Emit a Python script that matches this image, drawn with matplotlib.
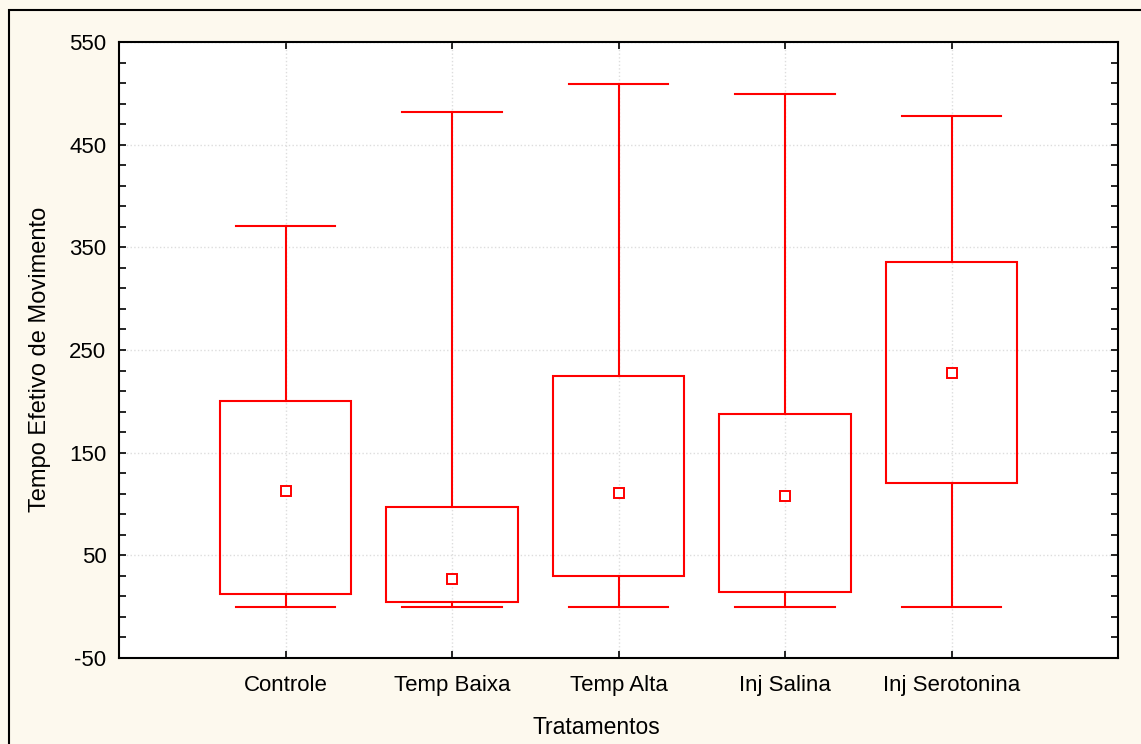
import matplotlib
matplotlib.use("Agg")
import matplotlib.pyplot as plt
import numpy as np
from matplotlib.patches import Rectangle
from matplotlib.ticker import FixedLocator

plt.rcParams["font.family"] = ["Liberation Sans", "DejaVu Sans"]
plt.rcParams["axes.unicode_minus"] = False

# dados
tratamentos = ["Controle", "Temp Baixa", "Temp Alta", "Inj Salina", "Inj Serotonina"]
whisker_min = [0, 0, 0, 0, 0]
box_low = [12, 5, 30, 14, 120]
media = [113, 27, 111, 108, 228]
box_high = [200, 97, 225, 188, 336]
whisker_max = [371, 482, 509, 499, 478]

RED = "#FF0000"
BG = "#FDF9EE"

fig = plt.figure(figsize=(11.41, 7.44), dpi=100)
fig.patch.set_facecolor(BG)
# moldura da figura
fig.patches.append(Rectangle((9 / 1141, -0.1), 1.2, 1 - 10 / 744 + 0.1,
                             transform=fig.transFigure, fill=False,
                             edgecolor="black", linewidth=1.5))

ax = fig.add_axes([119 / 1141, 1 - 658 / 744, (1118 - 119) / 1141, (658 - 42) / 744])
ax.set_facecolor("white")

box_w = 0.79
cap_w = 0.6
for i, nome in enumerate(tratamentos):
    x = i + 1
    ax.add_patch(Rectangle((x - box_w / 2, box_low[i]), box_w, box_high[i] - box_low[i],
                           fill=False, edgecolor=RED, linewidth=1.5, zorder=3))
    ax.plot([x, x], [box_high[i], whisker_max[i]], color=RED, lw=1.5, zorder=3)
    ax.plot([x, x], [whisker_min[i], box_low[i]], color=RED, lw=1.5, zorder=3)
    ax.plot([x - cap_w / 2, x + cap_w / 2], [whisker_max[i]] * 2, color=RED, lw=1.5, zorder=3)
    ax.plot([x - cap_w / 2, x + cap_w / 2], [whisker_min[i]] * 2, color=RED, lw=1.5, zorder=3)
    ax.plot(x, media[i], marker="s", markersize=7, markerfacecolor="white",
            markeredgecolor=RED, markeredgewidth=1.4, zorder=4)

ax.set_xlim(0, 6)
ax.set_ylim(-50, 550)
ax.set_xticks(range(1, len(tratamentos) + 1))
ax.set_xticklabels(tratamentos)
ax.yaxis.set_major_locator(FixedLocator(np.arange(-50, 551, 100)))
ax.yaxis.set_minor_locator(FixedLocator(np.arange(-50, 551, 20)))

ax.grid(True, which="major", color="#dddddd", linestyle=":", linewidth=1, zorder=0)
ax.tick_params(axis="both", which="both", direction="in", top=True, right=True,
               labelsize=16, width=1.2, color="black")
ax.tick_params(axis="both", which="major", length=5, pad=9)
ax.tick_params(axis="y", which="minor", length=5)
ax.tick_params(axis="x", which="major", pad=12)
for spine in ax.spines.values():
    spine.set_linewidth(1.5)
    spine.set_color("black")

ax.set_xlabel("Tratamentos", fontsize=16.5, va="center")
ax.set_ylabel("Tempo Efetivo de Movimento", fontsize=17, va="center")
ax.xaxis.set_label_coords(0.478, -0.1136)
ax.yaxis.set_label_coords(-0.079, 0.484)

plt.savefig("out.png", dpi=100, facecolor=BG)
plt.close()
